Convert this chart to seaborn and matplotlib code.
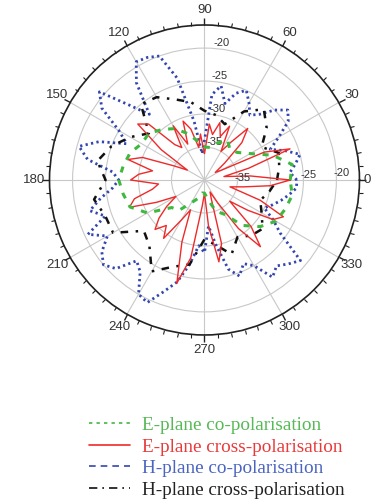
import numpy as np
import pandas as pd
import matplotlib
matplotlib.use("Agg")
import matplotlib.pyplot as plt
from matplotlib.lines import Line2D
import seaborn as sns

# angles (degrees) and levels (dB)
angles_fine = list(range(0, 360, 5))
angles_coarse = list(range(0, 360, 10))

e_cross = [-27, -33, -37, -33, -26.2, -30, -37, -38, -36, -32,
           -29.8, -33, -35, -31, -33, -31, -33, -31.5, -36, -33,
           -35, -32, -30.5, -34, -30.5, -34, -33, -28, -26.8, -32,
           -37, -35, -30, -28, -32, -30, -28.8, -33, -32, -29,
           -27.9, -32, -35, -33, -31, -29.4, -31, -29.2, -33, -35,
           -30, -23.8, -28, -36, -38, -33, -27.4, -30, -37, -38,
           -36, -31, -26.8, -30, -35, -32, -28, -26.8, -31, -36,
           -34, -30]

h_co = [-26, -27, -26, -25, -27, -29, -27, -24.5, -23.5, -25,
        -27, -28, -26.5, -25, -26, -28, -25.5, -27, -34, -36,
        -31, -24, -20, -19.5, -19.3, -22, -27, -24, -19.2, -21,
        -25, -27, -23, -20.3, -22, -26, -27, -26, -24, -22,
        -24, -20.5, -23, -21, -20, -21, -24, -23, -20, -19.5,
        -22, -24, -27, -30, -29, -33, -30, -26, -24.5, -26,
        -25, -22, -23, -22, -21, -26, -28, -30, -29, -28,
        -27, -26]

e_co = [-27, -26.5, -29, -32, -33.5, -34, -33, -34, -35, -35,
        -34, -32.5, -31, -30, -29, -29, -28, -27.5, -27, -27.5,
        -28, -30, -33.5, -34, -36, -37, -38, -38, -37, -35,
        -34, -31, -29, -27.5, -27, -26.5]

h_cross = [-29, -28.5, -28, -30, -27.7, -26, -28, -31, -30, -29.5,
           -28, -27, -25.5, -25, -29, -27, -25, -23.5, -25, -23,
           -24, -24, -28, -27, -24, -26, -27, -31, -30, -28,
           -30, -29, -28.5, -30, -31, -30]

angle_labels = [str(a) for a in range(0, 360, 30)]
series_names = ["E-plane co-polarisation", "E-plane cross-polarisation",
                "H-plane co-polarisation", "H-plane cross-polarisation"]
line_colors = ["#3fb83f", "#ee2a2a", "#3346b0", "#111111"]
text_colors = ["#55b955", "#e83a3a", "#4a64c0", "#222222"]


def closed(angles, values):
    th = np.deg2rad(list(angles) + [360])
    return pd.DataFrame({"theta": th, "db": list(values) + [values[0]]})


sns.set_style("white")
plt.rcParams["font.family"] = ["Liberation Sans", "DejaVu Sans"]

fig = plt.figure(figsize=(3.74, 4.99), dpi=100)
ax = fig.add_axes([0.1323, 0.3287, 0.8289, 0.6212], projection="polar")

rmin, rmax = -40, -16.5

# draw the four traces
sns.lineplot(data=closed(angles_fine, h_co), x="theta", y="db", ax=ax, sort=False,
             color=line_colors[2], linestyle=(0, (0.8, 1.2)), linewidth=2.0)
sns.lineplot(data=closed(angles_coarse, h_cross), x="theta", y="db", ax=ax, sort=False,
             color=line_colors[3], linestyle=(0, (3, 3, 1, 3)), linewidth=1.8)
sns.lineplot(data=closed(angles_fine, e_cross), x="theta", y="db", ax=ax, sort=False,
             color=line_colors[1], linestyle="-", linewidth=1.0)
sns.lineplot(data=closed(angles_coarse, e_co), x="theta", y="db", ax=ax, sort=False,
             color=line_colors[0], linestyle=(0, (2, 2.5)), linewidth=2.2)

ax.set_xlabel("")
ax.set_ylabel("")
ax.set_ylim(rmin, rmax)
ax.set_yticks([-35, -30, -25, -20])
ax.set_yticklabels(["-35", "-30", "-25", "-20"], fontsize=8, color="#333333")
ax.set_rlabel_position(86)

# the "0" label is placed by hand so it stays inside the narrow right margin
ax.set_xticks(np.deg2rad(np.arange(0, 360, 30)))
ax.set_xticklabels([""] + angle_labels[1:], fontsize=9.5, color="#333333")
ax.annotate(angle_labels[0], xy=(0, rmax), xytext=(3, 0), textcoords="offset points",
            ha="left", va="center", fontsize=9.5, color="#333333", annotation_clip=False)
ax.set_xticks(np.deg2rad(np.arange(0, 360, 5)), minor=True)
# on the outer edge of a polar axes, "out" points the marks into the plot
ax.tick_params(axis="x", which="both", bottom=False, top=True,
               labelbottom=True, labeltop=False)
ax.tick_params(axis="x", which="major", direction="out", length=5, width=1,
               color="#222222", pad=-1)
ax.tick_params(axis="x", which="minor", direction="out", length=3, width=0.8,
               color="#222222")
ax.grid(True, which="major", color="#c8c8c8", linewidth=0.8)
ax.grid(False, which="minor")
ax.spines["polar"].set_color("#222222")
ax.spines["polar"].set_linewidth(1.2)

# second set of ring labels along the 0 degree spoke
for v in [-35, -25, -20]:
    ax.text(np.deg2rad(3), v + 0.8, str(v), fontsize=8, color="#333333",
            ha="center", va="center")

# legend below the pattern
handles = [
    Line2D([], [], color=line_colors[0], linestyle=(0, (2, 2.5)), linewidth=1.2),
    Line2D([], [], color=line_colors[1], linestyle="-", linewidth=1.2),
    Line2D([], [], color=line_colors[2], linestyle=(0, (4, 3)), linewidth=1.2),
    Line2D([], [], color=line_colors[3], linestyle=(0, (5, 3, 1, 3)), linewidth=1.2),
]
leg = fig.legend(handles, series_names, loc="upper left", bbox_to_anchor=(0.193, 0.2),
                 frameon=False, handlelength=2.1, handletextpad=0.65, labelspacing=0.22,
                 prop={"family": "Liberation Serif", "size": 13.8})
for txt, c in zip(leg.get_texts(), text_colors):
    txt.set_color(c)

fig.savefig("out.png", dpi=100)
